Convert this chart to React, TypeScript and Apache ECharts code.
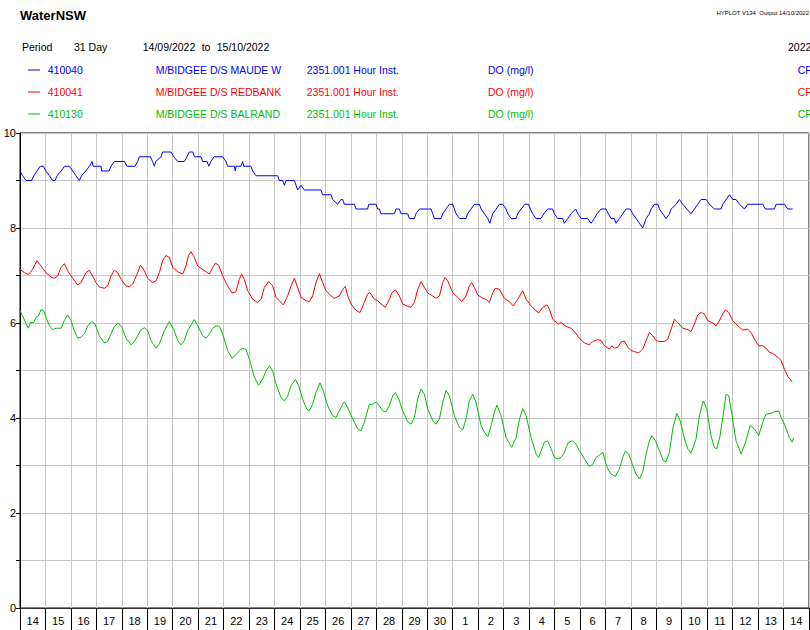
import React, { useEffect, useRef } from "react";
import * as echarts from "echarts";

const dayLabels = ["14","15","16","17","18","19","20","21","22","23","24","25","26","27","28","29","30","1","2","3","4","5","6","7","8","9","10","11","12","13","14"];
const yTicks = [0, 2, 4, 6, 8, 10];

// [hours since 14/09/2022 00:00, DO mg/l]
const blue410040: [number, number][] = [[0,9.2],[2.5,9.1],[5.7,9.0],[11,9.0],[13,9.1],[16,9.2],[19,9.3],[22,9.3],[24.5,9.2],[27.7,9.1],[30.8,9.0],[33,9.0],[35,9.1],[38.7,9.2],[42,9.3],[46.5,9.3],[49.7,9.2],[52.8,9.1],[56,9.0],[58,9.1],[62,9.2],[65.4,9.3],[68,9.4],[69,9.3],[76.4,9.3],[77,9.2],[84,9.2],[85.8,9.3],[89,9.4],[98.4,9.4],[101,9.3],[108.5,9.3],[111,9.4],[112.5,9.5],[123,9.5],[125,9.4],[126.7,9.3],[128,9.4],[133,9.5],[134.5,9.6],[142.4,9.6],[145,9.5],[148.7,9.4],[155,9.4],[157.5,9.5],[159.7,9.6],[163,9.6],[164.4,9.5],[170.7,9.5],[172.3,9.4],[176.4,9.4],[178,9.3],[180,9.4],[183,9.5],[191.1,9.5],[194.2,9.4],[195.8,9.3],[202.1,9.3],[203,9.2],[203.7,9.3],[208.4,9.3],[210,9.4],[211,9.3],[217.8,9.3],[219.4,9.2],[222.5,9.1],[243,9.1],[244.5,9.0],[247.7,9.0],[249.3,8.9],[250.9,9.0],[258.7,9.0],[260.3,8.9],[261.8,8.8],[265,8.9],[268.1,8.8],[283.8,8.8],[285.4,8.7],[293.3,8.7],[294.8,8.6],[299.5,8.5],[302.7,8.6],[304.3,8.6],[305.8,8.5],[315.3,8.5],[316.8,8.4],[327.8,8.4],[328.8,8.5],[335.7,8.5],[337.3,8.4],[338.9,8.4],[340.4,8.3],[353,8.3],[354.6,8.4],[357.7,8.4],[359.3,8.3],[365.6,8.3],[367.2,8.2],[371.9,8.2],[373.4,8.3],[376.6,8.4],[387.6,8.4],[389.2,8.3],[390.7,8.2],[397,8.2],[398.6,8.3],[401.7,8.4],[404.9,8.5],[408,8.5],[409.6,8.4],[411.2,8.3],[414.3,8.2],[420.6,8.2],[422.1,8.3],[425.3,8.4],[428.5,8.5],[433.2,8.5],[434.8,8.4],[437.9,8.3],[441.1,8.2],[443,8.1],[444.3,8.2],[445.8,8.3],[449,8.4],[452.1,8.5],[455.3,8.5],[458.3,8.4],[460,8.3],[463.1,8.2],[467.8,8.2],[469.3,8.3],[472.5,8.4],[476.2,8.5],[479.4,8.5],[481.3,8.4],[483.4,8.3],[486.6,8.2],[491.3,8.2],[493.9,8.3],[497.6,8.4],[502.3,8.4],[503.9,8.3],[507,8.2],[511.7,8.2],[513.3,8.1],[516.5,8.2],[519.6,8.3],[524,8.4],[526,8.3],[529.1,8.2],[535.3,8.2],[538.5,8.1],[541.6,8.2],[544.1,8.3],[547.9,8.4],[552.6,8.4],[554.8,8.3],[557.3,8.2],[560.5,8.2],[562,8.1],[565.2,8.2],[568.4,8.3],[571.5,8.4],[575.3,8.4],[577.8,8.3],[580.9,8.2],[584.1,8.1],[587.2,8.0],[590.4,8.2],[593.5,8.3],[595.1,8.4],[598.2,8.5],[601.4,8.5],[603,8.4],[606.1,8.3],[609.2,8.2],[612.4,8.3],[614,8.4],[618.7,8.5],[621.8,8.6],[625,8.5],[628.7,8.4],[632.8,8.3],[636,8.4],[639.1,8.5],[642.2,8.6],[647,8.6],[650.1,8.5],[654.8,8.4],[661.1,8.4],[662.7,8.5],[665.8,8.6],[669,8.7],[672.1,8.6],[675.2,8.6],[678.4,8.5],[683.1,8.4],[686.2,8.5],[700.4,8.5],[702.9,8.4],[711.4,8.4],[713,8.5],[720.8,8.5],[724,8.4],[728.6,8.4]];

const red410041: [number, number][] = [[0,7.13],[4.1,7.06],[7.9,7.02],[11.9,7.13],[16,7.31],[19.8,7.2],[24.5,7.06],[29.2,6.97],[32.4,6.94],[35.5,6.99],[38.7,7.17],[41.8,7.25],[45,7.1],[49.7,6.94],[54.4,6.8],[57.5,6.85],[62.2,7.06],[65.4,7.11],[68.5,6.99],[71.7,6.85],[74.8,6.76],[79.5,6.73],[82.7,6.78],[85.8,6.99],[89,7.11],[92.1,7.06],[95.3,6.92],[100,6.78],[103.1,6.76],[106.3,6.82],[111,7.06],[113.5,7.22],[117.3,7.1],[120.4,6.94],[125.1,6.85],[128.3,6.89],[131.4,7.06],[134.5,7.31],[137.7,7.42],[140.8,7.38],[144,7.17],[148.7,7.08],[153.4,7.03],[156.5,7.2],[158.8,7.42],[161.3,7.5],[164.4,7.38],[167.6,7.2],[170.7,7.15],[175.4,7.08],[178.6,7.03],[181.7,7.17],[184.2,7.26],[187.3,7.22],[191.1,6.99],[195.8,6.78],[199.9,6.63],[203.7,6.66],[206.8,6.92],[209,7.03],[211.5,6.92],[214.7,6.68],[219.4,6.5],[224.1,6.43],[227.3,6.5],[230.4,6.75],[234.5,6.87],[238.3,6.78],[241.4,6.54],[244.5,6.47],[248.3,6.38],[252.4,6.57],[255.6,6.78],[258.7,6.94],[261.8,6.75],[265,6.54],[269.7,6.47],[272.8,6.45],[276,6.57],[279.1,6.85],[282.3,7.04],[285.4,6.85],[288.6,6.68],[293.3,6.57],[296.4,6.52],[301.2,6.57],[304.3,6.71],[306.8,6.77],[309,6.57],[312.2,6.4],[316.8,6.27],[320.6,6.22],[324.7,6.43],[327.8,6.61],[330,6.64],[334.1,6.5],[337.3,6.47],[340.4,6.4],[344.5,6.33],[348.3,6.5],[350.8,6.64],[354,6.7],[357.7,6.57],[360.9,6.4],[365.6,6.35],[368.7,6.33],[371.9,6.43],[375,6.71],[378.2,6.87],[381.3,6.75],[384.5,6.63],[389.2,6.57],[392.3,6.52],[395.5,6.57],[398.6,6.85],[400.8,6.96],[403.3,6.89],[408,6.64],[412.8,6.54],[416.5,6.45],[420.6,6.57],[423.7,6.78],[425.9,6.85],[428.5,6.75],[431.6,6.59],[436.3,6.52],[439.5,6.5],[442.6,6.43],[445.8,6.64],[448,6.73],[452.1,6.71],[456.7,6.52],[461.4,6.45],[465.2,6.36],[469.3,6.5],[474,6.68],[477.2,6.5],[481.9,6.36],[485,6.29],[489.1,6.21],[492.9,6.33],[496.9,6.38],[499.2,6.29],[502.3,6.08],[507.7,5.98],[510.2,6.01],[514.9,5.93],[519.6,5.89],[522.8,5.82],[527.5,5.68],[532.2,5.58],[537,5.54],[540.1,5.61],[544.8,5.65],[548,5.63],[551.1,5.52],[555.8,5.45],[558.3,5.52],[560.5,5.47],[563.6,5.49],[566.8,5.6],[569.9,5.62],[573.1,5.49],[576.2,5.42],[579.3,5.4],[583.4,5.37],[587.2,5.45],[590.4,5.63],[593.5,5.8],[596.7,5.73],[599.8,5.63],[603,5.61],[607.6,5.61],[610.8,5.66],[614,5.87],[617.1,6.08],[620.3,6.01],[625,5.89],[629.7,5.86],[632.8,5.82],[636,5.98],[639.1,6.17],[642.2,6.22],[645.4,6.19],[648.5,6.05],[653.3,6.0],[656.4,5.94],[659.6,6.05],[662.7,6.19],[665.2,6.28],[668.3,6.22],[672.1,6.05],[675.2,5.98],[678.4,5.91],[681.5,5.85],[686.2,5.87],[689.4,5.8],[692.5,5.66],[696.6,5.52],[700.4,5.52],[703.5,5.47],[706.7,5.38],[709.8,5.36],[714.6,5.28],[717.7,5.21],[720.8,5.03],[724,4.88],[728.1,4.76]];

const green410130: [number, number][] = [[0,6.26],[2.5,6.15],[5.7,5.98],[7.9,5.89],[9.7,6.01],[12.9,6.01],[15.1,6.12],[17.3,6.15],[19.8,6.28],[22.3,6.26],[24.5,6.12],[27.7,5.94],[30.8,5.86],[34,5.89],[38.7,5.89],[41.8,6.05],[45,6.17],[48.1,6.05],[51.2,5.84],[54.4,5.68],[57.5,5.7],[60.7,5.77],[63.8,5.94],[67.6,6.03],[70.7,5.98],[74.8,5.73],[79.5,5.58],[82.7,5.61],[85.8,5.77],[89,5.93],[92.7,6.0],[95.9,5.91],[100,5.68],[104.7,5.54],[107.8,5.61],[111,5.73],[114.1,5.86],[117.3,5.9],[120.4,5.84],[123.5,5.63],[128.3,5.47],[131.4,5.56],[136.1,5.84],[140.8,6.03],[144.9,5.87],[148.7,5.63],[151.8,5.54],[155,5.63],[158.1,5.84],[164.4,6.07],[167.6,5.94],[172.3,5.73],[175.4,5.68],[178.6,5.77],[181.7,5.89],[184.8,5.94],[188,5.93],[191.1,5.77],[195.8,5.42],[199.9,5.26],[203.7,5.33],[206.8,5.42],[210,5.47],[213.1,5.44],[216.3,5.24],[221,4.86],[225.1,4.69],[228.8,4.82],[232,4.99],[235.1,5.1],[238.3,4.99],[241.4,4.72],[246.1,4.43],[249.3,4.36],[252.4,4.46],[255.6,4.68],[259.7,4.81],[262.8,4.68],[266.6,4.39],[270.4,4.19],[272.8,4.15],[276,4.29],[279.1,4.54],[282.9,4.74],[286,4.57],[290.1,4.26],[294.8,4.05],[298,4.01],[301.1,4.15],[304.3,4.29],[305.8,4.34],[309,4.22],[313.7,3.98],[318.4,3.77],[321.6,3.73],[324.7,3.91],[329.4,4.29],[332.6,4.29],[335.7,4.33],[338.9,4.26],[342,4.15],[345.2,4.13],[348.3,4.26],[351.5,4.47],[354,4.54],[357.1,4.4],[360.9,4.15],[365.6,3.92],[368.7,3.87],[371.9,4.01],[375,4.4],[378.2,4.61],[381.3,4.5],[384.5,4.19],[389.2,3.94],[392.3,3.87],[395.5,3.98],[398.6,4.33],[401.7,4.58],[404.9,4.47],[409.6,4.05],[414.3,3.8],[417.5,3.75],[420.6,3.98],[423.7,4.36],[426.9,4.5],[430,4.33],[434.8,3.84],[437.9,3.7],[441.1,3.61],[444.3,3.84],[447.3,4.12],[449.8,4.27],[453.6,4.05],[458.3,3.59],[463.7,3.38],[467.8,3.59],[471,3.98],[474.1,4.2],[477.2,4.05],[481.9,3.59],[486.6,3.24],[489.1,3.17],[491.3,3.31],[494.5,3.49],[497.6,3.52],[500.8,3.35],[503.9,3.17],[507,3.14],[510.2,3.17],[512.7,3.24],[514.9,3.38],[517.1,3.49],[521.2,3.52],[524.3,3.45],[527.5,3.31],[532.2,3.14],[537,2.98],[540.1,3.03],[543.3,3.17],[546.4,3.22],[549.6,3.28],[552.6,3.03],[554.2,2.93],[557.3,2.82],[561.4,2.77],[565.2,2.93],[568.4,3.17],[570.8,3.31],[574,3.24],[577.8,3.0],[580.9,2.82],[584.1,2.72],[587.2,2.86],[590.4,3.24],[593.5,3.52],[596,3.63],[599.2,3.52],[603,3.31],[606.7,3.1],[609.2,3.08],[612.4,3.28],[615.5,3.77],[619.3,4.1],[622.5,3.94],[626.6,3.56],[629.7,3.35],[632.8,3.26],[637.5,3.56],[640.7,4.05],[644.4,4.36],[647.6,4.19],[651.6,3.62],[654.8,3.38],[657,3.35],[660.1,3.62],[663.3,4.1],[665.8,4.5],[668.3,4.47],[671.5,4.05],[675.2,3.52],[680,3.24],[684.1,3.49],[688.5,3.84],[692.6,3.77],[696.6,3.63],[700.4,3.91],[703.5,4.08],[708.3,4.1],[711.4,4.13],[715.5,4.15],[717.7,4.01],[720.8,3.87],[725.5,3.59],[728.1,3.49],[729.6,3.58]];

const BLUE = "#0000ff";
const RED = "#ff0000";
const GREEN = "#00c000";
const FONT = "'Liberation Sans', Arial, sans-serif";

const legendRows = [
  { code: "410040", name: "M/BIDGEE D/S MAUDE W", color: BLUE, y: 70 },
  { code: "410041", name: "M/BIDGEE D/S REDBANK", color: RED, y: 92 },
  { code: "410130", name: "M/BIDGEE D/S BALRAND", color: GREEN, y: 114 },
];

function txt(text: string, x: number, y: number, color = "#000", size = 10.5, weight: string = "normal", align = "left") {
  return {
    type: "text",
    x,
    y,
    silent: true,
    style: { text, fill: color, fontSize: size, fontFamily: FONT, fontWeight: weight, align, verticalAlign: "middle" },
  };
}

export default function App() {
  const ref = useRef<HTMLDivElement>(null);
  useEffect(() => {
    if (!ref.current) return;
    const chart = echarts.init(ref.current, null, { renderer: "svg" });
    const graphics: any[] = [
      txt("WaterNSW", 20, 15, "#000", 13, "bold"),
      txt("HYPLOT V134  Output 14/10/2022", 809, 13, "#000", 6, "normal", "right"),
      txt("Period", 22, 47),
      txt("31 Day", 74, 47),
      txt("14/09/2022", 142.7, 47),
      txt("to", 201.7, 47),
      txt("15/10/2022", 216.7, 47),
      txt("2022", 788, 47),
    ];
    legendRows.forEach((r) => {
      graphics.push({ type: "line", silent: true, shape: { x1: 28, y1: r.y, x2: 40, y2: r.y }, style: { stroke: r.color, lineWidth: 1 } });
      graphics.push(txt(r.code, 47.7, r.y, r.color));
      graphics.push(txt(r.name, 155.7, r.y, r.color));
      graphics.push(txt("2351.001", 306.7, r.y, r.color));
      graphics.push({ type: "rect", silent: true, shape: { x: 350, y: r.y - 7, width: 3, height: 14 }, style: { fill: "#fff" } });
      graphics.push(txt("Hour Inst.", 353.3, r.y, r.color));
      graphics.push(txt("DO (mg/l)", 488, r.y, r.color));
      graphics.push(txt("CF", 797.7, r.y, r.color));
    });

    const mk = (name: string, data: [number, number][], color: string) => ({
      name,
      type: "line",
      xAxisIndex: 0,
      yAxisIndex: 0,
      data,
      showSymbol: false,
      symbol: "none",
      lineStyle: { color, width: 1 },
      itemStyle: { color },
      z: 5,
    });

    chart.setOption({
      animation: false,
      backgroundColor: "#fff",
      textStyle: { fontFamily: FONT },
      grid: { left: 20, top: 133, width: 789, height: 475, show: true, borderColor: "#000", borderWidth: 1, backgroundColor: "transparent" },
      xAxis: [
        {
          type: "value",
          min: 0,
          max: 744,
          interval: 24,
          axisLine: { show: false },
          axisTick: { show: false },
          axisLabel: { show: false },
          splitLine: { show: true, lineStyle: { color: "#c8c8c8", width: 1 } },
        },
        {
          type: "category",
          data: dayLabels,
          position: "bottom",
          boundaryGap: true,
          axisLine: { show: true, lineStyle: { color: "#333", width: 1 } },
          axisTick: { show: true, interval: 0, length: 22, lineStyle: { color: "#000", width: 1 } },
          axisLabel: { interval: 0, margin: 7, fontSize: 11, color: "#000", fontFamily: FONT },
          splitLine: { show: false },
        },
      ],
      yAxis: {
        type: "value",
        min: 0,
        max: 10,
        interval: 1,
        axisLine: { show: true, lineStyle: { color: "#000", width: 1 } },
        axisTick: { show: true, length: 4, lineStyle: { color: "#000" } },
        axisLabel: {
          margin: 4,
          fontSize: 11,
          color: "#000",
          fontFamily: FONT,
          formatter: (v: number) => (yTicks.indexOf(v) >= 0 ? String(v) : ""),
        },
        splitLine: { show: true, lineStyle: { color: "#c8c8c8", width: 1 } },
      },
      series: [
        mk("410040", blue410040, BLUE),
        mk("410041", red410041, RED),
        mk("410130", green410130, GREEN),
      ],
      graphic: graphics,
    });
    return () => chart.dispose();
  }, []);
  return <div ref={ref} style={{ position: "absolute", left: 0, top: 0, width: 810, height: 630, background: "#fff" }} />;
}
